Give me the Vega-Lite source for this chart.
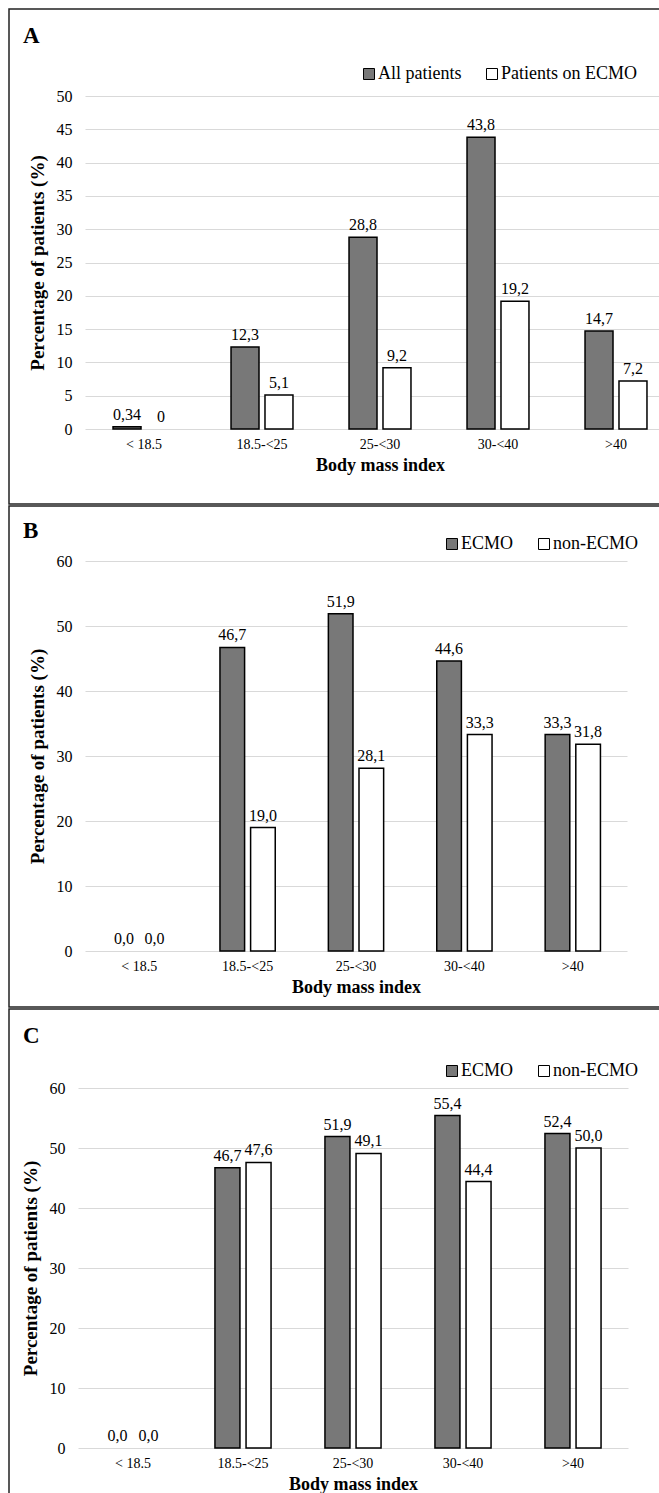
{
  "$schema": "https://vega.github.io/schema/vega-lite/v6.json",
  "background": "white",
  "padding": {"left": 8, "top": 8, "right": 0, "bottom": 0},
  "autosize": {"type": "pad"},
  "spacing": 0,
  "datasets": {
    "A": [
      {"bmi": "< 18.5", "group": "All patients", "value": 0.34, "label": "0,34"},
      {"bmi": "< 18.5", "group": "Patients on ECMO", "value": 0, "label": "0"},
      {"bmi": "18.5-<25", "group": "All patients", "value": 12.3, "label": "12,3"},
      {"bmi": "18.5-<25", "group": "Patients on ECMO", "value": 5.1, "label": "5,1"},
      {"bmi": "25-<30", "group": "All patients", "value": 28.8, "label": "28,8"},
      {"bmi": "25-<30", "group": "Patients on ECMO", "value": 9.2, "label": "9,2"},
      {"bmi": "30-<40", "group": "All patients", "value": 43.8, "label": "43,8"},
      {"bmi": "30-<40", "group": "Patients on ECMO", "value": 19.2, "label": "19,2"},
      {"bmi": ">40", "group": "All patients", "value": 14.7, "label": "14,7"},
      {"bmi": ">40", "group": "Patients on ECMO", "value": 7.2, "label": "7,2"}
    ],
    "B": [
      {"bmi": "< 18.5", "group": "ECMO", "value": 0, "label": "0,0"},
      {"bmi": "< 18.5", "group": "non-ECMO", "value": 0, "label": "0,0"},
      {"bmi": "18.5-<25", "group": "ECMO", "value": 46.7, "label": "46,7"},
      {"bmi": "18.5-<25", "group": "non-ECMO", "value": 19.0, "label": "19,0"},
      {"bmi": "25-<30", "group": "ECMO", "value": 51.9, "label": "51,9"},
      {"bmi": "25-<30", "group": "non-ECMO", "value": 28.1, "label": "28,1"},
      {"bmi": "30-<40", "group": "ECMO", "value": 44.6, "label": "44,6"},
      {"bmi": "30-<40", "group": "non-ECMO", "value": 33.3, "label": "33,3"},
      {"bmi": ">40", "group": "ECMO", "value": 33.3, "label": "33,3"},
      {"bmi": ">40", "group": "non-ECMO", "value": 31.8, "label": "31,8"}
    ],
    "C": [
      {"bmi": "< 18.5", "group": "ECMO", "value": 0, "label": "0,0"},
      {"bmi": "< 18.5", "group": "non-ECMO", "value": 0, "label": "0,0"},
      {"bmi": "18.5-<25", "group": "ECMO", "value": 46.7, "label": "46,7"},
      {"bmi": "18.5-<25", "group": "non-ECMO", "value": 47.6, "label": "47,6"},
      {"bmi": "25-<30", "group": "ECMO", "value": 51.9, "label": "51,9"},
      {"bmi": "25-<30", "group": "non-ECMO", "value": 49.1, "label": "49,1"},
      {"bmi": "30-<40", "group": "ECMO", "value": 55.4, "label": "55,4"},
      {"bmi": "30-<40", "group": "non-ECMO", "value": 44.4, "label": "44,4"},
      {"bmi": ">40", "group": "ECMO", "value": 52.4, "label": "52,4"},
      {"bmi": ">40", "group": "non-ECMO", "value": 50.0, "label": "50,0"}
    ]
  },
  "resolve": {
    "scale": {"color": "independent", "x": "independent", "y": "independent", "xOffset": "independent"},
    "legend": {"color": "independent"}
  },
  "vconcat": [
    {
      "width": 700,
      "height": 495,
      "title": {"text": "A", "anchor": "start", "frame": "group", "offset": -57, "dx": 14, "baseline": "alphabetic", "fontSize": 23, "fontWeight": "bold", "font": "Liberation Serif", "color": "black"},
      "data": {"name": "A"},
      "encoding": {
        "x": {"field": "bmi", "type": "nominal", "sort": null,
              "scale": {"range": [76, 666], "paddingInner": 0.475, "paddingOuter": 0.2375},
              "axis": {"title": "Body mass index", "offset": -75}},
        "xOffset": {"field": "group", "type": "nominal", "sort": null, "scale": {"paddingInner": 0.176, "paddingOuter": 0}},
        "y": {"field": "value", "type": "quantitative",
              "scale": {"domain": [0, 50], "range": [420, 87], "nice": false, "zero": true},
              "axis": {"title": "Percentage of patients (%)", "values": [0, 5, 10, 15, 20, 25, 30, 35, 40, 45, 50], "offset": -76}}
      },
      "layer": [
        {
          "mark": {"type": "bar", "stroke": "black"},
          "encoding": {
            "color": {"field": "group", "type": "nominal", "sort": null,
                      "scale": {"range": ["#787878", "white"]},
                      "legend": {"orient": "none", "legendX": 351, "legendY": 56, "direction": "horizontal", "title": null}},
            "strokeWidth": {"condition": {"test": "datum.value === 0", "value": 0}, "value": 1.5}
          }
        },
        {
          "mark": {"type": "text", "baseline": "alphabetic", "dy": -7, "fontSize": 16, "font": "Liberation Serif", "color": "black"},
          "encoding": {"text": {"field": "label"}}
        }
      ]
    },
    {
      "width": 700,
      "height": 501,
      "title": {"text": "B", "anchor": "start", "frame": "group", "offset": -55, "dx": 14, "baseline": "alphabetic", "fontSize": 23, "fontWeight": "bold", "font": "Liberation Serif", "color": "black"},
      "data": {"name": "B"},
      "encoding": {
        "x": {"field": "bmi", "type": "nominal", "sort": null,
              "scale": {"range": [76, 618], "paddingInner": 0.49, "paddingOuter": 0.245},
              "axis": {"title": "Body mass index", "offset": -56}},
        "xOffset": {"field": "group", "type": "nominal", "sort": null, "scale": {"paddingInner": 0.196, "paddingOuter": 0}},
        "y": {"field": "value", "type": "quantitative",
              "scale": {"domain": [0, 60], "range": [445, 55], "nice": false, "zero": true},
              "axis": {"title": "Percentage of patients (%)", "values": [0, 10, 20, 30, 40, 50, 60], "offset": -76}}
      },
      "layer": [
        {
          "mark": {"type": "bar", "stroke": "black"},
          "encoding": {
            "color": {"field": "group", "type": "nominal", "sort": null,
                      "scale": {"range": ["#787878", "white"]},
                      "legend": {"orient": "none", "legendX": 434, "legendY": 29, "direction": "horizontal", "title": null}},
            "strokeWidth": {"condition": {"test": "datum.value === 0", "value": 0}, "value": 1.5}
          }
        },
        {
          "mark": {"type": "text", "baseline": "alphabetic", "dy": -7, "fontSize": 16, "font": "Liberation Serif", "color": "black"},
          "encoding": {"text": {"field": "label"}}
        }
      ]
    },
    {
      "width": 700,
      "height": 495,
      "title": {"text": "C", "anchor": "start", "frame": "group", "offset": -57, "dx": 14, "baseline": "alphabetic", "fontSize": 23, "fontWeight": "bold", "font": "Liberation Serif", "color": "black"},
      "data": {"name": "C"},
      "encoding": {
        "x": {"field": "bmi", "type": "nominal", "sort": null,
              "scale": {"range": [69, 619], "paddingInner": 0.49, "paddingOuter": 0.245},
              "axis": {"title": "Body mass index", "offset": -56}},
        "xOffset": {"field": "group", "type": "nominal", "sort": null, "scale": {"paddingInner": 0.196, "paddingOuter": 0}},
        "y": {"field": "value", "type": "quantitative",
              "scale": {"domain": [0, 60], "range": [439, 79], "nice": false, "zero": true},
              "axis": {"title": "Percentage of patients (%)", "values": [0, 10, 20, 30, 40, 50, 60], "offset": -69}}
      },
      "layer": [
        {
          "mark": {"type": "bar", "stroke": "black"},
          "encoding": {
            "color": {"field": "group", "type": "nominal", "sort": null,
                      "scale": {"range": ["#787878", "white"]},
                      "legend": {"orient": "none", "legendX": 434, "legendY": 53, "direction": "horizontal", "title": null}},
            "strokeWidth": {"condition": {"test": "datum.value === 0", "value": 0}, "value": 1.5}
          }
        },
        {
          "mark": {"type": "text", "baseline": "alphabetic", "dy": -7, "fontSize": 16, "font": "Liberation Serif", "color": "black"},
          "encoding": {"text": {"field": "label"}}
        }
      ]
    }
  ],
  "config": {
    "font": "Liberation Serif",
    "view": {"stroke": "#222222", "strokeWidth": 1.5},
    "axisX": {"domain": false, "ticks": false, "grid": false, "labelAngle": 0, "labelFont": "Liberation Serif", "labelFontSize": 14, "labelColor": "black", "labelPadding": 8, "titleFont": "Liberation Serif", "titleFontSize": 18, "titleFontWeight": "bold", "titleColor": "black", "titlePadding": 5},
    "axisY": {"domain": false, "ticks": false, "grid": true, "gridColor": "#d9d9d9", "gridWidth": 1, "labelFont": "Liberation Serif", "labelFontSize": 16, "labelColor": "black", "labelPadding": 13, "titleFont": "Liberation Serif", "titleFontSize": 19, "titleFontWeight": "bold", "titleColor": "black", "titlePadding": 9},
    "legend": {"symbolType": "square", "symbolSize": 121, "symbolStrokeColor": "black", "symbolStrokeWidth": 1, "labelFont": "Liberation Serif", "labelFontSize": 18, "labelColor": "black", "columnPadding": 21, "labelOffset": 0, "padding": 0}
  }
}
